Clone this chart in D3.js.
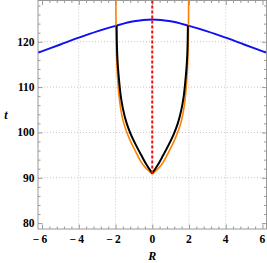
<!DOCTYPE html>
<html>
<head>
<meta charset="utf-8">
<script src="https://cdn.jsdelivr.net/npm/d3@7"></script>
<style>
  body { margin: 0; background: #fff; }
  svg { display: block; }
  .lbl { font-family: "Liberation Serif", "Times New Roman", serif; font-weight: bold; font-size: 11.5px; fill: #000; }
  .axlbl { font-family: "Liberation Serif", "Times New Roman", serif; font-weight: bold; font-style: italic; font-size: 12px; fill: #000; }
</style>
</head>
<body>
<svg id="chart" width="267" height="263"></svg>
<script>

// values
var blueR = [-6.2, -5, -4, -3, -2, -1, 0, 1, 2, 3, 4, 5, 6.2];
var blueT = [117.6, 119.4, 120.9, 122.3, 123.5, 124.5, 124.9, 124.5, 123.5, 122.3, 120.9, 119.4, 117.6];

var blackR = [-1.94, -1.93, -1.91, -1.87, -1.8, -1.7, -1.6, -1.4, -1.2, -0.9, -0.6, -0.3, 0,
              0.3, 0.6, 0.9, 1.2, 1.4, 1.6, 1.7, 1.8, 1.87, 1.91, 1.93, 1.94];
var blackT = [123.6, 120.5, 117.5, 114.5, 111.2, 107.6, 105.3, 102.1, 99.9, 97.3, 95.0, 92.8, 91.0,
              92.8, 95.0, 97.3, 99.9, 102.1, 105.3, 107.6, 111.2, 114.5, 117.5, 120.5, 123.6];

var orangeR = [-1.985, -1.97, -1.95, -1.92, -1.87, -1.8, -1.7, -1.55, -1.4, -1.2, -0.93, -0.47, 0,
               0.47, 0.93, 1.2, 1.4, 1.55, 1.7, 1.8, 1.87, 1.92, 1.95, 1.97, 1.985];
var orangeT = [131, 123, 118, 114.5, 111, 107.8, 104.8, 102.0, 100.2, 98.2, 96.0, 92.7, 90.8,
               92.7, 96.0, 98.2, 100.2, 102.0, 104.8, 107.8, 111, 114.5, 118, 123, 131];

var redR = [0, 0];
var redT = [129.1, 91.0];

var xTicks = [-6, -4, -2, 0, 2, 4, 6];
var yTicks = [80, 90, 100, 110, 120];
var xGrid = [-4, -2, 0, 2, 4];
var yGrid = [90, 100, 110, 120];

var svg = d3.select("#chart");

var pLeft = 38, pRight = 266.5, pTop = 0.5, pBottom = 229;

var xScale = d3.scaleLinear()
  .domain([-6.22, 6.22])
  .range([pLeft, pRight]);

var yScale = d3.scaleLinear()
  .domain([78.7, 129.1])
  .range([pBottom, pTop]);

function pts(rs, ts) {
  return rs.map(function(r, i){ return [r, ts[i]]; });
}

svg.append("clipPath").attr("id", "clip")
  .append("rect")
  .attr("x", pLeft).attr("y", pTop)
  .attr("width", pRight - pLeft).attr("height", pBottom - pTop);

// grid
svg.selectAll(".gx")
  .data(xGrid)
  .enter().append("line")
  .attr("x1", function(d){ return xScale(d); })
  .attr("x2", function(d){ return xScale(d); })
  .attr("y1", pTop).attr("y2", pBottom)
  .attr("stroke", "#c8c8c8")
  .attr("stroke-width", 1)
  .attr("stroke-dasharray", "1,2");

svg.selectAll(".gy")
  .data(yGrid)
  .enter().append("line")
  .attr("y1", function(d){ return yScale(d); })
  .attr("y2", function(d){ return yScale(d); })
  .attr("x1", pLeft).attr("x2", pRight)
  .attr("stroke", "#c8c8c8")
  .attr("stroke-width", 1)
  .attr("stroke-dasharray", "1,2");

// frame ticks (inward, all four sides)
var xMinor = d3.range(-6, 6.01, 0.4).filter(function(v){ return Math.abs(v / 2 - Math.round(v / 2)) > 0.01; });
var yMinor = d3.range(80, 129, 2).filter(function(v){ return v % 10 != 0; });

var xAxisB = d3.axisTop(xScale).tickValues(xTicks).tickSize(4.5).tickFormat("");
var xAxisBm = d3.axisTop(xScale).tickValues(xMinor).tickSize(2.5).tickFormat("");
var xAxisT = d3.axisBottom(xScale).tickValues(xTicks).tickSize(4.5).tickFormat("");
var xAxisTm = d3.axisBottom(xScale).tickValues(xMinor).tickSize(2.5).tickFormat("");
var yAxisL = d3.axisRight(yScale).tickValues(yTicks).tickSize(4.5).tickFormat("");
var yAxisLm = d3.axisRight(yScale).tickValues(yMinor).tickSize(2.5).tickFormat("");
var yAxisR = d3.axisLeft(yScale).tickValues(yTicks).tickSize(4.5).tickFormat("");
var yAxisRm = d3.axisLeft(yScale).tickValues(yMinor).tickSize(2.5).tickFormat("");

[[xAxisB, 0, pBottom], [xAxisBm, 0, pBottom], [xAxisT, 0, pTop], [xAxisTm, 0, pTop],
 [yAxisL, pLeft, 0], [yAxisLm, pLeft, 0], [yAxisR, pRight, 0], [yAxisRm, pRight, 0]].forEach(function(a){
  var g = svg.append("g")
    .attr("transform", "translate(" + a[1] + "," + a[2] + ")")
    .call(a[0]);
  g.select(".domain").remove();
  g.selectAll("line").attr("stroke", "#999");
});

svg.append("rect")
  .attr("x", pLeft).attr("y", pTop)
  .attr("width", pRight - pLeft).attr("height", pBottom - pTop)
  .attr("fill", "none")
  .attr("stroke", "#999")
  .attr("stroke-width", 1);

// tick labels
function fmt(v) {
  return v < 0 ? "\u2212\u2009" + (-v) : "" + v;
}

svg.selectAll(".xl")
  .data(xTicks)
  .enter().append("text")
  .attr("class", "lbl")
  .attr("x", function(d){ return xScale(d) - (d < 0 ? 2 : 0); })
  .attr("y", 243)
  .attr("text-anchor", "middle")
  .text(fmt);

svg.selectAll(".yl")
  .data(yTicks)
  .enter().append("text")
  .attr("class", "lbl")
  .attr("x", 34.5)
  .attr("y", function(d){ return yScale(d); })
  .attr("dy", "0.35em")
  .attr("text-anchor", "end")
  .text(fmt);

svg.append("text")
  .attr("class", "axlbl")
  .attr("x", xScale(0))
  .attr("y", 260)
  .attr("text-anchor", "middle")
  .text("R");

svg.append("text")
  .attr("class", "axlbl")
  .attr("x", 6)
  .attr("y", (pTop + pBottom) / 2)
  .attr("dy", "0.35em")
  .attr("text-anchor", "middle")
  .text("t");

// curves
var line = d3.line()
  .x(function(d){ return xScale(d[0]); })
  .y(function(d){ return yScale(d[1]); });

var plot = svg.append("g").attr("clip-path", "url(#clip)");

plot.append("path")
  .datum(pts(blueR, blueT))
  .attr("d", line.curve(d3.curveCatmullRom))
  .attr("fill", "none")
  .attr("stroke", "#1010f0")
  .attr("stroke-width", 2);

// each U is drawn as two branches so the cusp at R = 0 stays sharp
var oPts = pts(orangeR, orangeT);
var oMid = orangeR.indexOf(0);
[oPts.slice(0, oMid + 1), oPts.slice(oMid)].forEach(function(b){
  plot.append("path")
    .datum(b)
    .attr("d", line.curve(d3.curveMonotoneY))
    .attr("fill", "none")
    .attr("stroke", "#ff8000")
    .attr("stroke-width", 1.6);
});

var kPts = pts(blackR, blackT);
var kMid = blackR.indexOf(0);
[kPts.slice(0, kMid + 1), kPts.slice(kMid)].forEach(function(b){
  plot.append("path")
    .datum(b)
    .attr("d", line.curve(d3.curveMonotoneY))
    .attr("fill", "none")
    .attr("stroke", "#000")
    .attr("stroke-width", 2);
});

plot.append("path")
  .datum(pts(redR, redT))
  .attr("d", line.curve(d3.curveLinear))
  .attr("fill", "none")
  .attr("stroke", "#f01010")
  .attr("stroke-width", 2)
  .attr("stroke-dasharray", "3,2");

</script>
</body>
</html>
